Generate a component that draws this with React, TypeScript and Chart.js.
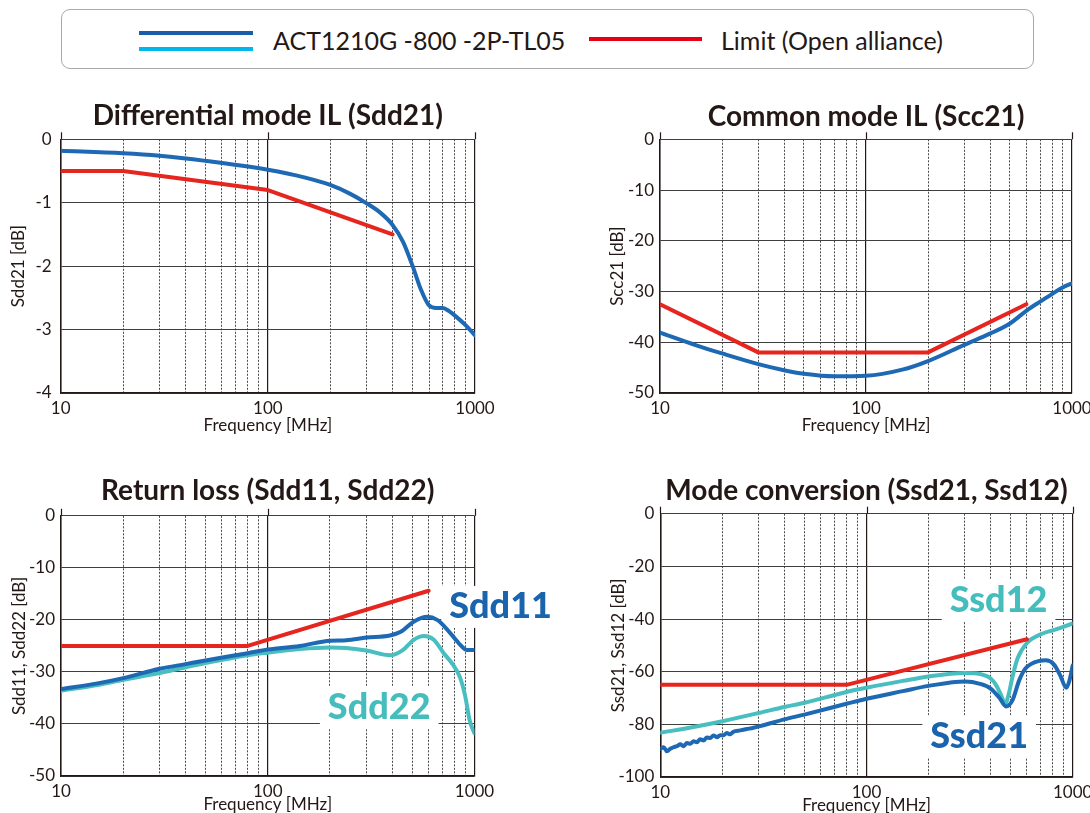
import React, { useEffect, useRef } from "react";
import { Chart, registerables } from "chart.js";

Chart.register(...registerables);

const FONT = "Lato, 'Noto Sans', sans-serif";
const INK = "#231815";
const BLUE = "#1d69b4";
const TEAL = "#48bec0";
const RED = "#e6251f";
const NOTE_BLUE = "#1a63ad";
const NOTE_TEAL = "#45bdbd";

Chart.defaults.font.family = FONT;
Chart.defaults.color = INK;

// ---------- axis ticks ----------
const FREQ_TICKS = [10, 20, 30, 40, 50, 60, 70, 80, 90, 100, 200, 300, 400, 500, 600, 700, 800, 900, 1000];
const FREQ_LABELS = [10, 100, 1000];
const SDD21_TICKS = [0, -1, -2, -3, -4];
const SCC21_TICKS = [0, -10, -20, -30, -40, -50];
const RL_TICKS = [0, -10, -20, -30, -40, -50];
const MC_TICKS = [0, -20, -40, -60, -80, -100];

// ---------- Differential mode IL (Sdd21) ----------
const SDD21_FREQ = [10, 20, 30, 50, 100, 150, 200, 250, 300, 350, 400, 450, 500, 550, 600, 650, 700, 750, 800, 900, 1000];
const SDD21_VALUES = [-0.18, -0.22, -0.26, -0.34, -0.48, -0.6, -0.72, -0.86, -1.01, -1.16, -1.35, -1.62, -2.0, -2.38, -2.62, -2.66, -2.66, -2.71, -2.78, -2.93, -3.09];
const SDD21_LIMIT_FREQ = [10, 20, 100, 400];
const SDD21_LIMIT = [-0.5, -0.5, -0.8, -1.5];

// ---------- Common mode IL (Scc21) ----------
const SCC21_FREQ = [10, 15, 20, 30, 40, 50, 70, 100, 150, 200, 300, 400, 500, 600, 700, 800, 900, 1000];
const SCC21_VALUES = [-38.1, -40.6, -42.2, -44.3, -45.5, -46.2, -46.7, -46.6, -45.4, -43.7, -40.5, -38.3, -36.3, -33.8, -32.0, -30.5, -29.2, -28.4];
const SCC21_LIMIT_FREQ = [10, 30, 200, 600];
const SCC21_LIMIT = [-32.5, -42, -42, -32.5];

// ---------- Return loss (Sdd11, Sdd22) ----------
const SDD11_FREQ = [10, 15, 20, 30, 40, 50, 80, 100, 143, 200, 240, 300, 390, 440, 510, 590, 660, 740, 840, 920, 1000];
const SDD11_VALUES = [-33.3, -32.2, -31.2, -29.4, -28.5, -27.8, -26.4, -25.7, -25.0, -24.0, -23.9, -23.4, -23.0, -22.3, -20.3, -19.4, -20.0, -21.9, -24.5, -25.8, -25.8];
const SDD22_FREQ = [10, 15, 20, 30, 50, 80, 100, 143, 200, 240, 300, 390, 450, 510, 570, 635, 710, 790, 850, 900, 950, 1000];
const SDD22_VALUES = [-33.6, -32.5, -31.5, -30.2, -28.3, -26.8, -26.3, -25.6, -25.3, -25.4, -25.9, -26.8, -25.8, -23.8, -23.1, -23.8, -26.4, -28.7, -31.0, -34.5, -39.5, -41.8];
const RL_LIMIT_FREQ = [10, 80, 600];
const RL_LIMIT = [-25, -25, -14.4];

// ---------- Mode conversion (Ssd21, Ssd12) ----------
const SSD21_FREQ = [10, 10.38, 10.77, 11.18, 11.6, 12.04, 12.5, 12.97, 13.46, 13.97, 14.5, 15.05, 15.62, 16.21, 16.82, 17.46, 18.12, 18.81, 19.52, 20.26, 21.02, 21.82, 22.64, 24.39, 26.27, 28.3, 30.5, 40, 50, 80, 100, 150, 200, 300, 355, 400, 440, 475, 510, 550, 590, 690, 740, 810, 870, 930, 965, 1000];
const SSD21_VALUES = [-89.3, -88.7, -90.2, -89.3, -88.7, -88.3, -87.6, -88.3, -87.1, -87.4, -86.4, -86.8, -85.7, -86.1, -85.0, -85.2, -84.2, -84.9, -84.1, -84.1, -83.3, -83.8, -82.8, -82.3, -81.8, -81.3, -80.7, -78.1, -76.3, -72.2, -70.3, -67.4, -65.4, -63.7, -64.6, -66.4, -69.8, -73.2, -70.9, -63.3, -58.8, -55.9, -55.7, -57.2, -61.4, -66.1, -63.3, -57.6];
const SSD12_FREQ = [10, 14.5, 20, 30, 40, 50, 80, 100, 150, 200, 300, 355, 400, 425, 450, 470, 490, 510, 540, 600, 715, 800, 1000];
const SSD12_VALUES = [-83.2, -81.0, -78.8, -75.7, -73.4, -71.8, -67.7, -66.1, -63.5, -61.8, -60.5, -60.9, -62.6, -65.1, -69.0, -72.2, -68.4, -62.1, -55.0, -49.1, -45.5, -44.3, -41.7];
const MC_LIMIT_FREQ = [10, 80, 600];
const MC_LIMIT = [-65, -65, -47.7];

// ---------- legend ----------
const LEGEND_PRODUCT = "ACT1210G -800 -2P-TL05";
const LEGEND_LIMIT = "Limit (Open alliance)";

type Series = { freq: number[]; values: number[]; color: string; smooth: boolean };
type Note = { text: string; freq: number; db: number; color: string };
type Geom = {
  left: number; top: number; width: number;
  plotLeft: number; plotRight: number; plotTop: number; plotBottom: number;
  titleY: number; yTitleX: number; tickPad: number; xTitleGap: number;
};
type PanelCfg = {
  title: string; yTitle: string; yTicks: number[];
  series: Series[]; notes: Note[]; geom: Geom;
};

const TITLE_SIZE = 28;
const TITLE_LH = TITLE_SIZE * 1.2;
const AXIS_TITLE_SIZE = 17;
const AXIS_TITLE_LH = AXIS_TITLE_SIZE * 1.2;
const TICK_SIZE = 17;
const X_AXIS_H = 44;
const NOTE_FONT = `900 36px ${FONT}`;

const PANELS: PanelCfg[] = [
  {
    title: "Differential mode IL (Sdd21)",
    yTitle: "Sdd21 [dB]",
    yTicks: SDD21_TICKS,
    series: [
      { freq: SDD21_LIMIT_FREQ, values: SDD21_LIMIT, color: RED, smooth: false },
      { freq: SDD21_FREQ, values: SDD21_VALUES, color: BLUE, smooth: true },
    ],
    notes: [],
    geom: { left: 0, top: 90, width: 560, plotLeft: 60.7, plotRight: 475, plotTop: 139.3, plotBottom: 393, titleY: 116, yTitleX: 19, tickPad: 9, xTitleGap: 33 },
  },
  {
    title: "Common mode IL (Scc21)",
    yTitle: "Scc21 [dB]",
    yTicks: SCC21_TICKS,
    series: [
      { freq: SCC21_LIMIT_FREQ, values: SCC21_LIMIT, color: RED, smooth: false },
      { freq: SCC21_FREQ, values: SCC21_VALUES, color: BLUE, smooth: true },
    ],
    notes: [],
    geom: { left: 590, top: 90, width: 560, plotLeft: 660, plotRight: 1072, plotTop: 139.3, plotBottom: 392.7, titleY: 116.5, yTitleX: 618, tickPad: 6, xTitleGap: 33 },
  },
  {
    title: "Return loss (Sdd11, Sdd22)",
    yTitle: "Sdd11, Sdd22 [dB]",
    yTicks: RL_TICKS,
    series: [
      { freq: RL_LIMIT_FREQ, values: RL_LIMIT, color: RED, smooth: false },
      { freq: SDD11_FREQ, values: SDD11_VALUES, color: BLUE, smooth: true },
      { freq: SDD22_FREQ, values: SDD22_VALUES, color: TEAL, smooth: true },
    ],
    notes: [
      { text: "Sdd11", freq: 1337, db: -17.5, color: NOTE_BLUE },
      { text: "Sdd22", freq: 346, db: -36.9, color: NOTE_TEAL },
    ],
    geom: { left: 0, top: 460, width: 560, plotLeft: 61, plotRight: 474.5, plotTop: 515.8, plotBottom: 776, titleY: 491, yTitleX: 19.5, tickPad: 6, xTitleGap: 29 },
  },
  {
    title: "Mode conversion (Ssd21, Ssd12)",
    yTitle: "Ssd21, Ssd12 [dB]",
    yTicks: MC_TICKS,
    series: [
      { freq: MC_LIMIT_FREQ, values: MC_LIMIT, color: RED, smooth: false },
      { freq: SSD21_FREQ, values: SSD21_VALUES, color: BLUE, smooth: true },
      { freq: SSD12_FREQ, values: SSD12_VALUES, color: TEAL, smooth: true },
    ],
    notes: [
      { text: "Ssd12", freq: 437, db: -32.8, color: NOTE_TEAL },
      { text: "Ssd21", freq: 352, db: -84.6, color: NOTE_BLUE },
    ],
    geom: { left: 590, top: 460, width: 560, plotLeft: 660.3, plotRight: 1072.7, plotTop: 513.7, plotBottom: 776.5, titleY: 491, yTitleX: 619, tickPad: 6, xTitleGap: 29 },
  },
];

const decorPlugin = {
  id: "decor",
  beforeDatasetsDraw(chart: any, _args: any, opts: any) {
    const { ctx, chartArea, scales } = chart;
    ctx.save();
    ctx.strokeStyle = INK;
    ctx.lineWidth = 1.2;
    for (const f of FREQ_LABELS) {
      const x = Math.round(scales.x.getPixelForValue(f)) + 0.5;
      ctx.beginPath();
      ctx.moveTo(x, chartArea.top - 7);
      ctx.lineTo(x, chartArea.top);
      ctx.stroke();
    }
    ctx.font = NOTE_FONT;
    ctx.fillStyle = "#ffffff";
    for (const n of (opts.notes || []) as Note[]) {
      const x = scales.x.getPixelForValue(n.freq);
      const y = scales.y.getPixelForValue(n.db);
      const w = ctx.measureText(n.text).width;
      ctx.fillRect(x - w / 2 - 8, y - 21, w + 16, 42);
    }
    ctx.restore();
  },
  afterDatasetsDraw(chart: any, _args: any, opts: any) {
    const { ctx, scales } = chart;
    ctx.save();
    ctx.font = NOTE_FONT;
    ctx.textAlign = "center";
    ctx.textBaseline = "middle";
    for (const n of (opts.notes || []) as Note[]) {
      ctx.fillStyle = n.color;
      ctx.fillText(n.text, scales.x.getPixelForValue(n.freq), scales.y.getPixelForValue(n.db));
    }
    ctx.restore();
  },
};

function buildConfig(cfg: PanelCfg): any {
  const g = cfg.geom;
  const titlePadTop = g.titleY - g.top - TITLE_LH / 2;
  const titlePadBottom = g.plotTop - g.top - titlePadTop - TITLE_LH;
  const yWidth = g.plotLeft - g.left;
  const rightPad = g.left + g.width - g.plotRight;
  const yTitlePad = g.yTitleX - g.left - AXIS_TITLE_LH / 2;
  const xTitlePadBottom = X_AXIS_H - AXIS_TITLE_LH / 2 - g.xTitleGap;
  const isMajor = (v: number) => FREQ_LABELS.includes(v);
  const tickLH = TICK_SIZE * 1.2;
  const xTickPad = 15.5 - tickLH / 2;

  return {
    type: "line",
    data: {
      datasets: cfg.series.map((s) => ({
        data: s.freq.map((f, i) => ({ x: f, y: s.values[i] })),
        borderColor: s.color,
        backgroundColor: s.color,
        borderWidth: 4,
        pointRadius: 0,
        pointHoverRadius: 0,
        fill: false,
        tension: 0,
        cubicInterpolationMode: s.smooth ? "monotone" : "default",
        borderCapStyle: "round",
        borderJoinStyle: "round",
      })),
    },
    options: {
      animation: false,
      responsive: false,
      events: [],
      layout: { padding: { left: 0, top: 0, right: rightPad, bottom: 0 } },
      plugins: {
        legend: { display: false },
        tooltip: { enabled: false },
        title: {
          display: true,
          text: cfg.title,
          fullSize: false,
          color: INK,
          font: { family: FONT, size: TITLE_SIZE, weight: "bold", lineHeight: 1.2 },
          padding: { top: titlePadTop, bottom: titlePadBottom },
        },
        decor: { notes: cfg.notes },
      },
      scales: {
        x: {
          type: "logarithmic",
          min: 10,
          max: 1000,
          afterBuildTicks: (axis: any) => {
            axis.ticks = FREQ_TICKS.map((v) => ({ value: v }));
          },
          afterFit: (axis: any) => {
            axis.height = X_AXIS_H;
          },
          ticks: {
            autoSkip: false,
            maxRotation: 0,
            padding: xTickPad,
            color: INK,
            font: { size: TICK_SIZE, lineHeight: 1.2 },
            callback: (v: any) => (isMajor(Number(v)) ? String(v) : ""),
          },
          grid: {
            drawTicks: false,
            color: (ctx: any) => (ctx.tick && isMajor(ctx.tick.value) ? INK : "#4a4a4a"),
            lineWidth: (ctx: any) => (ctx.tick && isMajor(ctx.tick.value) ? 1.2 : 1),
          },
          border: {
            display: true,
            color: INK,
            width: 1.5,
            dash: (ctx: any) => (ctx.tick && !isMajor(ctx.tick.value) ? [2, 1.5] : []),
          },
          title: {
            display: true,
            text: "Frequency [MHz]",
            color: INK,
            font: { size: AXIS_TITLE_SIZE, lineHeight: 1.2 },
            padding: { top: 0, bottom: xTitlePadBottom },
          },
        },
        y: {
          type: "linear",
          min: Math.min(...cfg.yTicks),
          max: Math.max(...cfg.yTicks),
          afterBuildTicks: (axis: any) => {
            axis.ticks = cfg.yTicks.map((v) => ({ value: v }));
          },
          afterFit: (axis: any) => {
            axis.width = yWidth;
          },
          ticks: {
            autoSkip: false,
            padding: g.tickPad,
            color: INK,
            font: { size: TICK_SIZE, lineHeight: 1.2 },
            callback: (v: any) => String(v),
          },
          grid: {
            drawTicks: false,
            color: "#3f3f3f",
            lineWidth: 1,
          },
          border: { display: true, color: INK, width: 1.5 },
          title: {
            display: true,
            text: cfg.yTitle,
            color: INK,
            font: { size: AXIS_TITLE_SIZE, lineHeight: 1.2 },
            padding: { top: yTitlePad, bottom: 0 },
          },
        },
      },
    },
    plugins: [decorPlugin],
  };
}

function Panel({ cfg }: { cfg: PanelCfg }) {
  const ref = useRef<HTMLCanvasElement>(null);
  const g = cfg.geom;
  const h = Math.round(g.plotBottom + X_AXIS_H - g.top);
  useEffect(() => {
    if (!ref.current) return;
    const chart = new Chart(ref.current, buildConfig(cfg));
    return () => chart.destroy();
  }, [cfg]);
  return (
    <canvas
      ref={ref}
      width={g.width}
      height={h}
      style={{ position: "absolute", left: g.left, top: g.top, width: g.width, height: h }}
    />
  );
}

function Legend() {
  const text: React.CSSProperties = {
    position: "absolute",
    top: 24.5,
    height: 30,
    lineHeight: "30px",
    fontFamily: FONT,
    fontSize: 25,
    color: INK,
    whiteSpace: "nowrap",
  };
  return (
    <>
      <div
        style={{
          position: "absolute",
          left: 61,
          top: 9,
          width: 973,
          height: 60,
          border: "1.5px solid #a9a9a9",
          borderRadius: 9,
          boxSizing: "border-box",
          background: "#fff",
        }}
      />
      <div style={{ position: "absolute", left: 139, top: 30.5, width: 114, height: 4, background: "#1a5da8" }} />
      <div style={{ position: "absolute", left: 139, top: 47, width: 114, height: 4, background: "#00b6ea" }} />
      <span style={{ ...text, left: 273 }}>{LEGEND_PRODUCT}</span>
      <div style={{ position: "absolute", left: 589, top: 36.7, width: 113, height: 4, background: "#e50014" }} />
      <span style={{ ...text, left: 721 }}>{LEGEND_LIMIT}</span>
    </>
  );
}

export default function App() {
  return (
    <div
      style={{
        position: "absolute",
        left: 0,
        top: 0,
        width: 1090,
        height: 813,
        overflow: "hidden",
        background: "#ffffff",
        fontFamily: FONT,
      }}
    >
      <Legend />
      {PANELS.map((p, i) => (
        <Panel key={i} cfg={p} />
      ))}
    </div>
  );
}
